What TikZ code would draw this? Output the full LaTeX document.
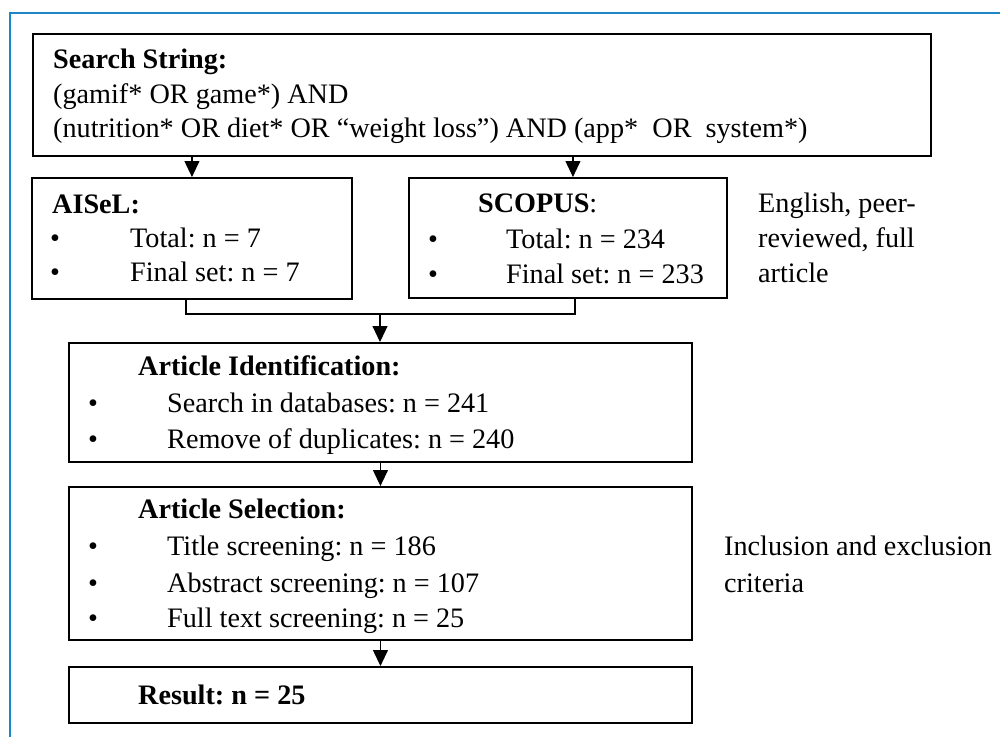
\documentclass[tikz,border=0pt]{standalone}
\usepackage{fontspec}
\setmainfont{Liberation Serif}
\usetikzlibrary{arrows.meta}
\definecolor{frameblue}{RGB}{28,134,198}
\frenchspacing
\tikzset{
  box/.style={draw=black, line width=1.9pt, rectangle, inner sep=0pt, anchor=north west},
  txt/.style={anchor=base west, inner sep=0pt, font=\fontsize{28.2}{34}\selectfont},
  conn/.style={draw=black, line width=1.1pt},
  arr/.style={conn, -{Triangle[width=15pt,length=16pt]}},
}
\begin{document}
\begin{tikzpicture}[x=1pt,y=-1pt]
\useasboundingbox (0,0) rectangle (1000,737);
\fill[white] (0,0) rectangle (1000,737);
\draw[frameblue, line width=1.6pt] (10,737) -- (10,13) -- (1000,13);

% boxes
\node[box, minimum width=898pt, minimum height=122pt] (search) at (32,33) {};
\node[box, minimum width=320pt, minimum height=121pt] (aisel) at (31,177) {};
\node[box, minimum width=318pt, minimum height=120pt] (scopus) at (408,177) {};
\node[box, minimum width=623pt, minimum height=119pt] (ident) at (68,342) {};
\node[box, minimum width=623pt, minimum height=153pt] (select) at (68,486) {};
\node[box, minimum width=623pt, minimum height=56pt] (result) at (68,666) {};

% search text
\node[txt] (s1) at (53,68) {\textbf{Search String:}};
\node[txt] (s2) at (53,103) {(gamif* OR game*) AND};
\node[txt] (s3) at (53,137) {(nutrition* OR diet* OR “weight loss”) AND (app*\ \ OR\ \ system*)};

% AISeL text
\node[txt] (a1) at (52,213) {\textbf{AISeL:}};
\node[txt] (ab1) at (50,247) {\textbullet};
\node[txt] (a2) at (130,247) {Total: n = 7};
\node[txt] (ab2) at (50,281) {\textbullet};
\node[txt] (a3) at (130,281) {Final set: n = 7};

% SCOPUS text
\node[txt] (c1) at (478,212) {\textbf{SCOPUS}:};
\node[txt] (cb1) at (428,248) {\textbullet};
\node[txt] (c2) at (506,248) {Total: n = 234};
\node[txt] (cb2) at (428,283) {\textbullet};
\node[txt] (c3) at (506,283) {Final set: n = 233};

% side note 1
\node[txt] (e1) at (758,212) {English, peer-};
\node[txt] (e2) at (758,247) {reviewed, full};
\node[txt] (e3) at (758,282) {article};

% identification
\node[txt] (i1) at (138,375) {\textbf{Article Identification:}};
\node[txt] (ib1) at (88,412) {\textbullet};
\node[txt] (i2) at (167,412) {Search in databases: n = 241};
\node[txt] (ib2) at (88,448) {\textbullet};
\node[txt] (i3) at (167,448) {Remove of duplicates: n = 240};

% selection
\node[txt] (l1) at (138,518) {\textbf{Article Selection:}};
\node[txt] (lb1) at (88,555) {\textbullet};
\node[txt] (l2) at (167,555) {Title screening: n = 186};
\node[txt] (lb2) at (88,592) {\textbullet};
\node[txt] (l3) at (167,592) {Abstract screening: n = 107};
\node[txt] (lb3) at (88,627) {\textbullet};
\node[txt] (l4) at (167,627) {Full text screening: n = 25};

% side note 2
\node[txt] (n1) at (724,555) {Inclusion and exclusion};
\node[txt] (n2) at (724,592) {criteria};

% result
\node[txt] (r1) at (138,704) {\textbf{Result: n = 25}};

% connectors
\coordinate (j) at (380,314);
\draw[arr] (search.south -| aisel.north) -- (aisel.north);
\draw[arr] ([xshift=5pt]search.south -| scopus.north) -- ([xshift=5pt]scopus.north);
\draw[conn] ([xshift=-6pt]aisel.south) |- (j) -| ([xshift=7pt]scopus.south);
\draw[arr] (j) -- (j |- ident.north);
\draw[arr] (ident.south) -- (select.north);
\draw[arr] (select.south) -- (result.north);
\end{tikzpicture}
\end{document}
